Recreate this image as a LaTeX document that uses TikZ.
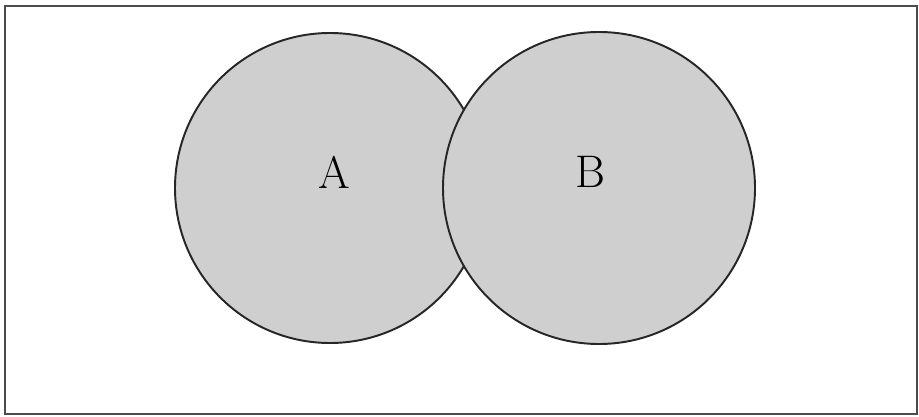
\documentclass[tikz,border=0pt]{standalone}
\usepackage{tikz}

\begin{document}
\begin{tikzpicture}[x=0.02cm, y=0.02cm, set/.style={line width=1.1pt, draw=black!85, fill=black!19}, frame/.style={line width=1pt, draw=black!70}, setlabel/.style={font=\fontsize{26}{30}\selectfont}]
			\useasboundingbox (0,0) rectangle (919,416);
			\draw[frame] (5,2) rectangle (917,410);
			\draw[set] (330,228) circle (155);
			\draw[set] (599,228) circle (156);
			\node[setlabel] (a) at (334,244) {A};
			\node[setlabel] (b) at (590,244) {B};
			\end{tikzpicture}
\end{document}
